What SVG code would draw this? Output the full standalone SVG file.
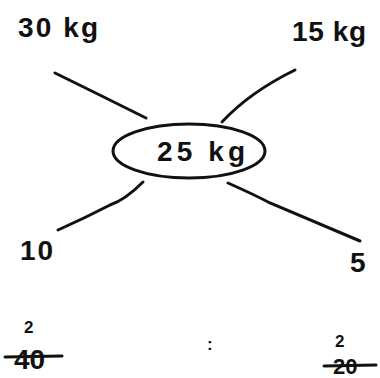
<svg xmlns="http://www.w3.org/2000/svg" width="380" height="378" viewBox="0 0 380 378">
<style>
.t{font-family:"Liberation Sans","DejaVu Sans",sans-serif;fill:#111;font-weight:bold;}
.big{font-size:28px;}
.sm{font-size:17px;}
.ln{fill:none;stroke:#111;stroke-width:3;stroke-linecap:round;}
</style>
<rect width="380" height="378" fill="#fff"/>
<g id="connectors">
<path class="ln" d="M55,73 Q100,95 146,118"/>
<path class="ln" d="M295,70 Q250,92 222,122"/>
<path class="ln" d="M143,182 Q125,200 110,205 Q85,218 58,230"/>
<path class="ln" d="M228,183 Q255,195 270,203 Q310,220 360,241"/>
</g>
<g id="n30">
<text class="t big" x="18" y="37" textLength="80" lengthAdjust="spacing">30 kg</text>
</g>
<g id="n15">
<text class="t big" x="292" y="41" textLength="74" lengthAdjust="spacing">15 kg</text>
</g>
<g id="center">
<ellipse class="ln" cx="189" cy="151" rx="76" ry="27"/>
<text class="t big" x="157" y="161" textLength="88" lengthAdjust="spacing">25 kg</text>
</g>
<g id="n10">
<text class="t big" x="20" y="260" textLength="33" lengthAdjust="spacing">10</text>
</g>
<g id="n5">
<text class="t big" x="350" y="272">5</text>
</g>
<g id="left-calc">
<text class="t sm" x="24" y="333">2</text>
<text class="t big" x="14" y="369">40</text>
<path class="ln" d="M5,357 L62,356"/>
</g>
<g id="mid">
<text class="t sm" x="207" y="350">:</text>
</g>
<g id="right-calc">
<text class="t sm" x="335" y="347">2</text>
<text class="t" font-size="22" x="333" y="374">20</text>
<path class="ln" d="M324,366 L376,365"/>
</g>
</svg>
